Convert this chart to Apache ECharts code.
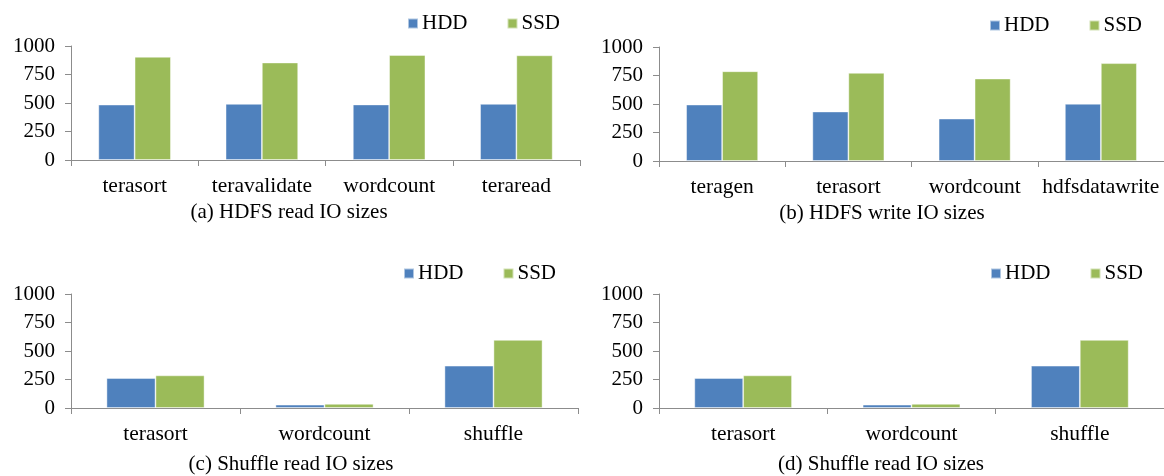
<!DOCTYPE html>
<html>
<head>
<meta charset="utf-8">
<script src="https://cdn.jsdelivr.net/npm/echarts@6/dist/echarts.min.js"></script>
<style>
  html, body { margin: 0; padding: 0; background: #ffffff; }
  #chart { width: 1164px; height: 476px; }
</style>
</head>
<body>
<div id="chart"></div>
<script>
// Average IO sizes per workload, HDD vs SSD
const seriesNames = ['HDD', 'SSD'];

const readCategories = ['terasort', 'teravalidate', 'wordcount', 'teraread'];
const readHdd = [486, 492, 487, 492];
const readSsd = [905, 855, 921, 918];

const writeCategories = ['teragen', 'terasort', 'wordcount', 'hdfsdatawrite'];
const writeHdd = [495, 434, 372, 502];
const writeSsd = [787, 773, 723, 858];

const shuffleCategories = ['terasort', 'wordcount', 'shuffle'];
const shuffleHdd = [263, 29, 371];
const shuffleSsd = [286, 36, 597];

const shuffleCategories2 = ['terasort', 'wordcount', 'shuffle'];
const shuffleHdd2 = [263, 29, 371];
const shuffleSsd2 = [286, 36, 597];

const yTicks = { min: 0, max: 1000, interval: 250 };

const captions = [
  '(a) HDFS read IO sizes',
  '(b) HDFS write IO sizes',
  '(c) Shuffle read IO sizes',
  '(d) Shuffle read IO sizes'
];

const FONT = '"Liberation Serif", "Times New Roman", serif';
const AXIS_COLOR = '#8c8c8c';
const COLORS = ['#4f81bd', '#9bbb59'];

const panels = [
  { cats: readCategories, hdd: readHdd, ssd: readSsd,
    grid: { left: 71, top: 46, width: 509, height: 114 }, gap: '43%',
    legend: { left: 407, top: 13 }, caption: { x: 289, y: 212 } },
  { cats: writeCategories, hdd: writeHdd, ssd: writeSsd,
    grid: { left: 659, top: 47, width: 508, height: 114 }, gap: '43%',
    legend: { left: 989, top: 15 }, caption: { x: 882, y: 213 } },
  { cats: shuffleCategories, hdd: shuffleHdd, ssd: shuffleSsd,
    grid: { left: 71, top: 294, width: 507, height: 114 }, gap: '42%',
    legend: { left: 403, top: 263 }, caption: { x: 291, y: 464 } },
  { cats: shuffleCategories2, hdd: shuffleHdd2, ssd: shuffleSsd2,
    grid: { left: 659, top: 294, width: 507, height: 114 }, gap: '42%',
    legend: { left: 990, top: 263 }, caption: { x: 881, y: 464 } }
];

const option = {
  animation: false,
  backgroundColor: '#ffffff',
  textStyle: { fontFamily: FONT, color: '#000000' },
  grid: [], xAxis: [], yAxis: [], series: [], legend: [], graphic: []
};

panels.forEach((p, i) => {
  option.grid.push(Object.assign({ containLabel: false }, p.grid));
  option.xAxis.push({
    type: 'category', gridIndex: i, data: p.cats,
    axisLine: { show: true, lineStyle: { color: AXIS_COLOR, width: 1 } },
    axisTick: { show: true, inside: false, length: 6, lineStyle: { color: AXIS_COLOR } },
    axisLabel: { color: '#000', fontFamily: FONT, fontSize: 21.5, margin: 15, interval: 0 },
    splitLine: { show: false }
  });
  option.yAxis.push({
    type: 'value', gridIndex: i, min: yTicks.min, max: yTicks.max, interval: yTicks.interval,
    axisLine: { show: true, lineStyle: { color: AXIS_COLOR, width: 1 } },
    axisTick: { show: true, inside: false, length: 6, lineStyle: { color: AXIS_COLOR } },
    axisLabel: { color: '#000', fontFamily: FONT, fontSize: 21, margin: 16,
                 formatter: (v) => String(v) },
    splitLine: { show: false }
  });
  [p.hdd, p.ssd].forEach((vals, k) => {
    option.series.push({
      type: 'bar', name: seriesNames[k], xAxisIndex: i, yAxisIndex: i,
      data: vals, barGap: '0%', barCategoryGap: p.gap,
      itemStyle: { color: COLORS[k], borderColor: 'rgba(255,255,255,0.55)', borderWidth: 0.8 },
      emphasis: { disabled: true }
    });
  });
  option.legend.push({
    data: seriesNames, left: p.legend.left, top: p.legend.top,
    icon: 'rect', itemWidth: 10, itemHeight: 10, itemGap: 39, padding: 0,
    selectedMode: false,
    textStyle: { fontFamily: FONT, fontSize: 21, color: '#000', padding: [0, 0, 0, -1] }
  });
  // panel caption under each chart
  option.graphic.push({
    type: 'text', x: p.caption.x, y: p.caption.y, silent: true,
    style: {
      text: captions[i], fill: '#000', font: '21px ' + FONT,
      textAlign: 'center', textVerticalAlign: 'middle'
    }
  });
});

const chart = echarts.init(document.getElementById('chart'), null, { renderer: 'canvas' });
chart.setOption(option);
</script>
</body>
</html>
